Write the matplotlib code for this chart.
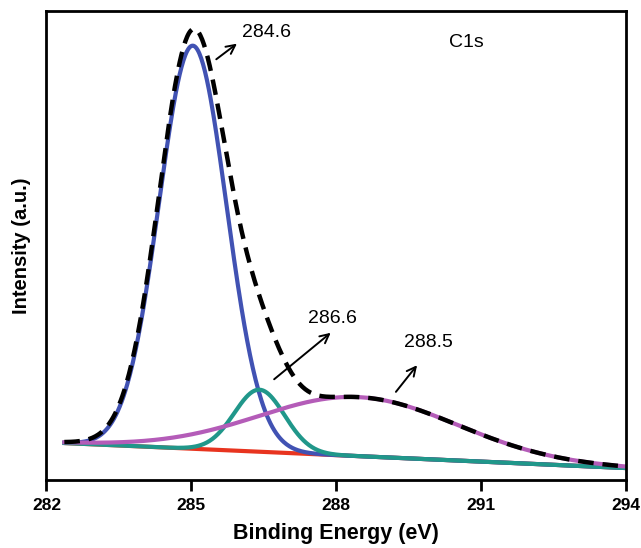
import matplotlib
matplotlib.use('Agg')
import matplotlib.pyplot as plt
import numpy as np

plt.rcParams['font.family'] = ['Liberation Sans', 'DejaVu Sans']

# fitted C1s components
peak_labels = ['284.6', '286.6', '288.5']
peak_centers = [285.03, 286.41, 288.45]      # eV
peak_heights = [403, 62, 59]                  # a.u. above baseline
peak_sigmas = [0.70, 0.52, 2.05]              # eV
peak_colors = ['#4152b3', '#20978a', '#b45cb8']

# linear background end points
baseline_e = [282.37, 294.0]
baseline_i = [37, 12]

xticks = [282, 285, 288, 291, 294]

energy = np.linspace(baseline_e[0], baseline_e[1], 600)
baseline = np.interp(energy, baseline_e, baseline_i)

components = []
for c, h, s in zip(peak_centers, peak_heights, peak_sigmas):
    components.append(h * np.exp(-0.5 * ((energy - c) / s) ** 2))
envelope = baseline + np.sum(components, axis=0)

fig = plt.figure(figsize=(6.41, 5.48), dpi=100)
ax = fig.add_axes([0.0725, 0.124, 0.9041, 0.856])

ax.plot(energy, baseline, color='#e8341f', lw=3, solid_capstyle='butt')
# blue first, then teal, then magenta on top
for i in [0, 1, 2]:
    ax.plot(energy, baseline + components[i], color=peak_colors[i], lw=3)
ax.plot(energy, envelope, color='black', lw=3.2, dashes=(3.5, 2))

# peak position arrows
ax.annotate('', xy=(285.99, 438), xytext=(285.47, 419),
            arrowprops=dict(arrowstyle='->', lw=1.4, color='black', mutation_scale=16))
ax.text(286.05, 447, peak_labels[0], fontsize=14, ha='left', va='center')

ax.annotate('', xy=(287.93, 149), xytext=(286.67, 99),
            arrowprops=dict(arrowstyle='->', lw=1.4, color='black', mutation_scale=16))
ax.text(287.92, 162, peak_labels[1], fontsize=14, ha='center', va='center')

ax.annotate('', xy=(289.71, 117), xytext=(289.2, 86),
            arrowprops=dict(arrowstyle='->', lw=1.4, color='black', mutation_scale=16))
ax.text(289.91, 138, peak_labels[2], fontsize=14, ha='center', va='center')

ax.text(290.69, 437, 'C1s', fontsize=14, ha='center', va='center')

ax.set_xlim(282, 294)
ax.set_ylim(0, 469)
ax.set_xticks(xticks)
ax.set_xticklabels([str(t) for t in xticks], fontsize=12.5, fontweight='bold')
ax.set_yticks([])
ax.tick_params(axis='x', direction='out', length=8, width=2, pad=5, top=False)
for sp in ax.spines.values():
    sp.set_linewidth(2)

ax.set_xlabel('Binding Energy (eV)', fontsize=15.5, fontweight='bold', labelpad=7)
ax.set_ylabel('Intensity (a.u.)', fontsize=14.5, fontweight='bold', labelpad=11)

fig.savefig('out.png', dpi=100)
